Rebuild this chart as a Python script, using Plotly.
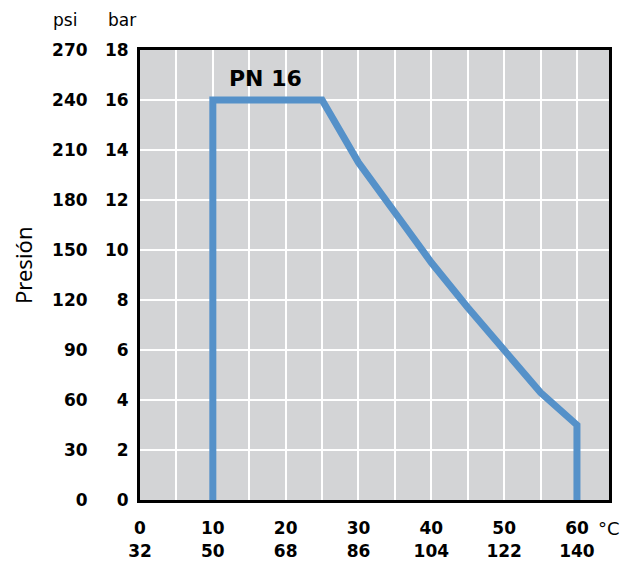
import plotly.graph_objects as go

# Data
temp_c = [10, 10, 25, 30, 35, 40, 45, 50, 55, 60, 60]
pressure_bar = [0, 16, 16, 13.5, 11.5, 9.5, 7.7, 6.0, 4.3, 3.0, 0]

x_tick_c = [0, 10, 20, 30, 40, 50, 60]
x_tick_f = [32, 50, 68, 86, 104, 122, 140]
x_grid = [0, 5, 10, 15, 20, 25, 30, 35, 40, 45, 50, 55, 60]
bar_ticks = [0, 2, 4, 6, 8, 10, 12, 14, 16, 18]
psi_ticks = [0, 30, 60, 90, 120, 150, 180, 210, 240, 270]

series_label = "PN 16"
BLUE = "#5591c9"
BG = "#d3d4d6"
FONT = "DejaVu Sans"
TICK_SIZE = 17

# page body offsets the figure by 8px
OFF = 8
W, H = 628 - OFF, 561 - OFF
plot_left = 140 - OFF
plot_right = 609 - OFF
plot_top = 50 - OFF
plot_bottom = 500 - OFF
ML, MT = 0, plot_top
MR = W - plot_right
MB = H - plot_bottom
paper_w = W - ML - MR
plot_h = plot_bottom - plot_top
x_dom0 = plot_left / paper_w

ticktext = []
for v in x_grid:
    if v in x_tick_c:
        i = x_tick_c.index(v)
        ticktext.append(f"<b>{x_tick_c[i]}</b><br><b>{x_tick_f[i]}</b>")
    else:
        ticktext.append("")

fig = go.Figure()
fig.add_trace(go.Scatter(
    x=temp_c, y=pressure_bar, mode="lines",
    line=dict(color=BLUE, width=7), hoverinfo="skip", showlegend=False,
))
fig.add_trace(go.Scatter(
    x=temp_c, y=[p * 15 for p in pressure_bar], mode="lines", yaxis="y2",
    line=dict(color="rgba(0,0,0,0)", width=0), hoverinfo="skip", showlegend=False,
))

fig.update_layout(
    width=W, height=H,
    margin=dict(l=ML, r=MR, t=MT, b=MB),
    paper_bgcolor="white", plot_bgcolor=BG,
    font=dict(family=FONT, color="black"),
    xaxis=dict(
        domain=[x_dom0, 1], range=[0, 64.4],
        tickmode="array", tickvals=x_grid, ticktext=ticktext,
        showgrid=True, gridcolor="white", gridwidth=2,
        showline=True, linecolor="black", linewidth=3, mirror=True,
        ticks="outside", ticklen=11, tickcolor="rgba(0,0,0,0)",
        tickfont=dict(size=TICK_SIZE, family=FONT), zeroline=False,
        automargin=False,
    ),
    yaxis=dict(
        range=[0, 18], tickmode="array", tickvals=bar_ticks,
        ticktext=[f"<b>{v}</b>" for v in bar_ticks],
        showgrid=True, gridcolor="white", gridwidth=2,
        showline=True, linecolor="black", linewidth=3, mirror=True,
        ticks="outside", ticklen=5, tickcolor="rgba(0,0,0,0)",
        tickfont=dict(size=TICK_SIZE, family=FONT), zeroline=False,
        automargin=False,
    ),
    yaxis2=dict(
        range=[0, 270], tickmode="array", tickvals=psi_ticks,
        ticktext=[f"<b>{v}</b>" for v in psi_ticks],
        overlaying="y", side="left", anchor="free", position=87 / paper_w,
        showgrid=False, showline=False, zeroline=False,
        ticks="outside", ticklen=4, tickcolor="rgba(0,0,0,0)",
        tickfont=dict(size=TICK_SIZE, family=FONT), automargin=False,
    ),
)

anns = [
    dict(text="psi", x=(65 - OFF) / paper_w, y=1 + 30 / plot_h, font=dict(size=17)),
    dict(text="bar", x=(122 - OFF) / paper_w, y=1 + 30 / plot_h, font=dict(size=17)),
    dict(text="°C", x=(609 - OFF) / paper_w, y=-28 / plot_h, font=dict(size=18)),
    dict(text="Presión", x=(23 - OFF) / paper_w, y=(500 - 266) / plot_h, textangle=-90,
         font=dict(size=22, family="Noto Sans")),
]
for a in anns:
    fig.add_annotation(xref="paper", yref="paper", showarrow=False,
                       xanchor="center", yanchor="middle", **a)

fig.add_annotation(text=f"<b>{series_label}</b>", x=17.2, y=16.85, xref="x", yref="y",
                   showarrow=False, font=dict(size=22, family=FONT),
                   xanchor="center", yanchor="middle")

fig.write_html("out.html")
